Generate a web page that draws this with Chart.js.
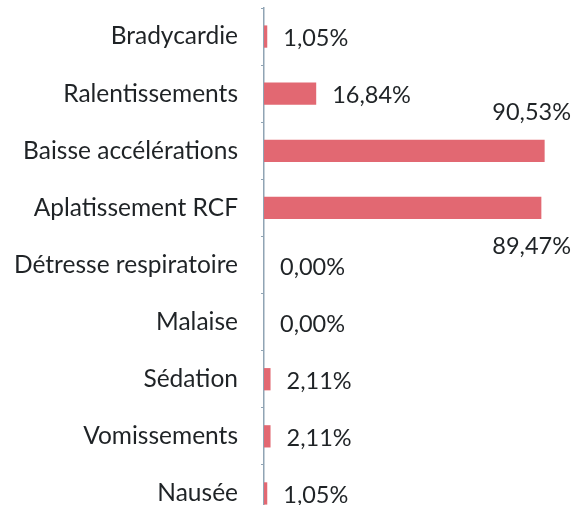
<!DOCTYPE html>
<html><head><meta charset="utf-8">
<script src="https://cdn.jsdelivr.net/npm/chart.js@4"></script>
<style>html,body{margin:0;padding:0;overflow:hidden;background:#fff}#w{width:574px;height:530px}</style>
</head><body><div id="w"><canvas id="c"></canvas></div>
<script>
const categories = ["Bradycardie","Ralentissements","Baisse accélérations","Aplatissement RCF","Détresse respiratoire","Malaise","Sédation","Vomissements","Nausée"];
const values = [1.05, 16.84, 90.53, 89.47, 0, 0, 2.11, 2.11, 1.05];
const valueLabels = ["1,05%","16,84%","90,53%","89,47%","0,00%","0,00%","2,11%","2,11%","1,05%"];

const FONT = "Lato, 'Open Sans', sans-serif";
const labelPlugin = {
  id: 'vlabels',
  afterDatasetsDraw(chart) {
    const ctx = chart.ctx;
    const meta = chart.getDatasetMeta(0);
    const area = chart.chartArea;
    ctx.save();
    ctx.font = "23.5px " + FONT;
    ctx.fillStyle = "#1f2326";
    ctx.textBaseline = "middle";
    meta.data.forEach((bar, i) => {
      const v = values[i];
      let x, y, align = "left";
      if (v > 50) {
        align = "right";
        x = area.right - 3;
        y = (i === 2) ? bar.y - 38 : bar.y + 39;
      } else {
        x = bar.x + 16; y = bar.y + 2;
      }
      ctx.textAlign = align;
      ctx.fillText(valueLabels[i], x, y);
    });
    ctx.restore();
  }
};

new Chart(document.getElementById('c'), {
  type: 'bar',
  data: {
    labels: categories,
    datasets: [{
      data: values,
      backgroundColor: 'rgb(226,104,114)',
      borderWidth: 0,
      categoryPercentage: 1,
      barPercentage: 0.39
    }]
  },
  options: {
    indexAxis: 'y',
    responsive: true,
    maintainAspectRatio: false,
    animation: false,
    layout: { padding: { top: 8, bottom: 8, left: 0, right: 0 } },
    plugins: { legend: { display: false }, tooltip: { enabled: false } },
    scales: {
      x: { display: false, min: 0, max: 100 },
      y: {
        afterFit(s) { s.width = 264; s.paddingTop = 0; s.paddingBottom = 0; },
        border: { display: true, color: '#90a4b4', width: 1.5 },
        grid: { display: true, drawOnChartArea: false, offset: true, tickLength: 3, color: '#90a4b4' },
        ticks: { font: { family: FONT, size: 24.5 }, color: '#1f2326', padding: 23 }
      }
    }
  },
  plugins: [labelPlugin]
});
</script>
</body></html>
